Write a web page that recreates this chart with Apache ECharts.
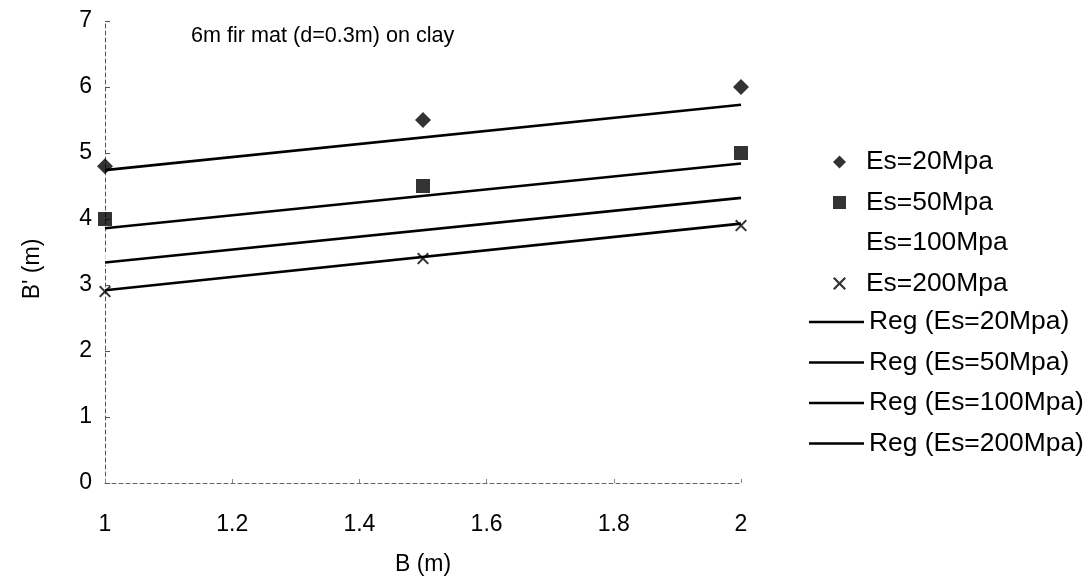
<!DOCTYPE html>
<html>
<head>
<meta charset="utf-8">
<script src="https://cdn.jsdelivr.net/npm/echarts@6/dist/echarts.min.js"></script>
<style>
html,body{margin:0;padding:0;background:#fff;}
#chart{width:1092px;height:576px;}
</style>
</head>
<body>
<div id="chart"></div>
<script>
// Data
var bValues = [1, 1.5, 2];
var es20 = [4.8, 5.5, 6.0];
var es50 = [4.0, 4.5, 5.0];
var es100 = [3.4, 3.8, 4.3];
var es200 = [2.9, 3.4, 3.9];
// Regression line end points (at B = 1 and B = 2)
var regB = [1, 2];
var reg20 = [4.74, 5.73];
var reg50 = [3.86, 4.84];
var reg100 = [3.34, 4.32];
var reg200 = [2.92, 3.93];
var scatterNames = ['Es=20Mpa', 'Es=50Mpa', 'Es=100Mpa', 'Es=200Mpa'];
var regNames = ['Reg (Es=20Mpa)', 'Reg (Es=50Mpa)', 'Reg (Es=100Mpa)', 'Reg (Es=200Mpa)'];
var titleText = '6m fir mat (d=0.3m) on clay';

function pairs(xs, ys) { return xs.map(function (x, i) { return [x, ys[i]]; }); }

var FONT = "'Liberation Sans', Arial, sans-serif";
var crossPath = 'path://M0,1.2 L1.2,0 L5,3.8 L8.8,0 L10,1.2 L6.2,5 L10,8.8 L8.8,10 L5,6.2 L1.2,10 L0,8.8 L3.8,5 Z';
var symbols = ['diamond', 'rect', 'rect', crossPath];

function regSeries(name, ys) {
  return {
    name: name, type: 'line', data: pairs(regB, ys), symbol: 'none',
    lineStyle: { color: '#000', width: 2.6 }, itemStyle: { color: '#000' },
    silent: true
  };
}

var legendText = { fontFamily: FONT, fontSize: 26.4, color: '#000' };

var chart = echarts.init(document.getElementById('chart'), null, { renderer: 'canvas' });
chart.setOption({
  animation: false,
  backgroundColor: '#fff',
  title: {
    text: titleText, left: 186, top: 20,
    textStyle: { fontFamily: FONT, fontSize: 21.6, fontWeight: 'normal', color: '#000' }
  },
  grid: { left: 105, top: 21, width: 636, height: 462, containLabel: false, outerBoundsMode: 'none' },
  xAxis: {
    type: 'value', min: 1, max: 2, interval: 0.2,
    name: 'B (m)', nameLocation: 'middle', nameGap: 70,
    nameTextStyle: { fontFamily: FONT, fontSize: 23, color: '#000' },
    axisLine: { lineStyle: { color: '#666', width: 1, type: [4, 3] } },
    axisTick: { inside: true, length: 4, lineStyle: { color: '#888' } },
    axisLabel: { fontFamily: FONT, fontSize: 23, color: '#000', margin: 30,
      formatter: function (v) { return String(+v.toFixed(1)); } },
    splitLine: { show: false }
  },
  yAxis: {
    type: 'value', min: 0, max: 7, interval: 1,
    name: "B' (m)", nameLocation: 'middle', nameGap: 61, nameRotate: 90,
    nameTextStyle: { fontFamily: FONT, fontSize: 23, color: '#000', padding: [0, 34, 0, 0] },
    axisLine: { show: true, lineStyle: { color: '#555', width: 1, type: [4, 3] } },
    axisTick: { show: true, inside: true, length: 5, lineStyle: { color: '#555' } },
    axisLabel: { fontFamily: FONT, fontSize: 23, color: '#000', margin: 13 },
    splitLine: { show: false }
  },
  legend: [
    {
      orient: 'vertical', left: 828, top: 144,
      itemWidth: 13, itemHeight: 13, itemGap: 14.5,
      data: scatterNames.map(function (n, i) { return { name: n, icon: symbols[i] }; }),
      textStyle: Object.assign({ padding: [0, 0, 0, 15] }, legendText)
    },
    {
      orient: 'vertical', left: 804, top: 304,
      itemWidth: 55, itemHeight: 2.6, itemGap: 14.5,
      data: regNames.map(function (n) { return { name: n, icon: 'rect' }; }),
      textStyle: legendText
    }
  ],
  series: [
    regSeries(regNames[0], reg20),
    regSeries(regNames[1], reg50),
    regSeries(regNames[2], reg100),
    regSeries(regNames[3], reg200),
    { name: scatterNames[0], type: 'scatter', data: pairs(bValues, es20), symbol: symbols[0], symbolSize: 16,
      itemStyle: { color: '#000' } },
    { name: scatterNames[1], type: 'scatter', data: pairs(bValues, es50), symbol: symbols[1], symbolSize: 14,
      itemStyle: { color: '#000' } },
    { name: scatterNames[2], type: 'scatter', data: pairs(bValues, es100), symbol: symbols[2], symbolSize: 13,
      itemStyle: { color: '#fff' } },
    { name: scatterNames[3], type: 'scatter', data: pairs(bValues, es200), symbol: symbols[3], symbolSize: 12,
      itemStyle: { color: '#000' } }
  ]
});
</script>
</body>
</html>
